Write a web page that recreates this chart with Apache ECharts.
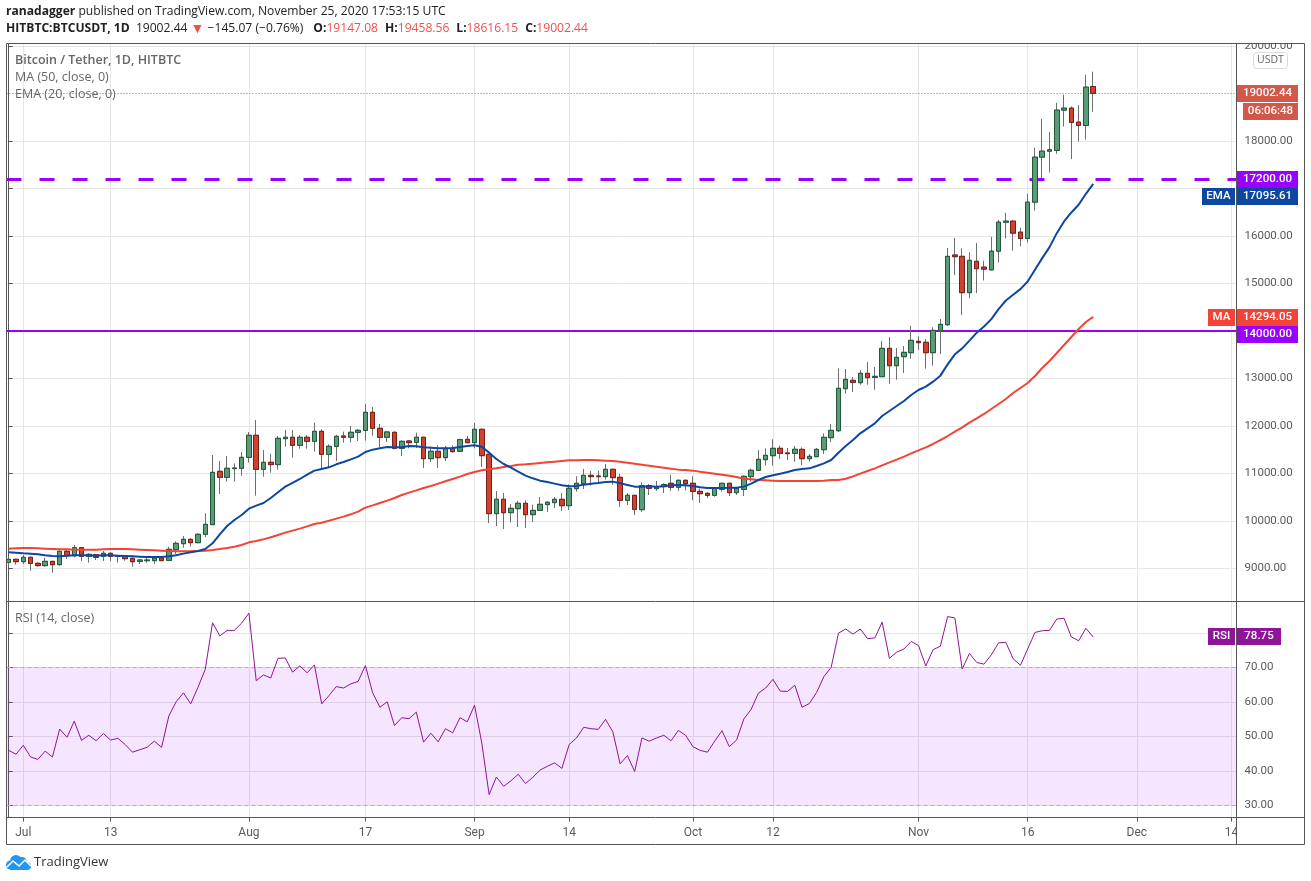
<!DOCTYPE html>
<html><head><meta charset="utf-8">
<style>html,body{margin:0;padding:0;background:#fff}#c{width:1311px;height:881px}</style>
<script src="https://cdn.jsdelivr.net/npm/echarts@6/dist/echarts.min.js"></script>
</head><body><div id="c"></div>
<script>
const opens=[9126,9189,9140,9231,9105,9056,9147,9077,9358,9266,
9435,9252,9287,9252,9316,9252,9259,9210,9147,9161,
9161,9217,9168,9393,9519,9610,9540,9716,9919,11042,
10916,11099,11106,11337,11801,11085,11232,11183,11730,11759,
11590,11759,11674,11885,11401,11569,11787,11759,11864,11906,
12285,11948,11759,11864,11527,11681,11653,11759,11309,11464,
11330,11527,11464,11716,11646,11927,11401,10151,10453,10172,
10256,10369,10130,10221,10341,10383,10453,10319,10677,10783,
10958,10944,10930,11085,10916,10432,10537,10235,10741,10677,
10720,10790,10706,10853,10790,10621,10579,10537,10663,10790,
10593,10663,10930,11064,11288,11372,11527,11429,11422,11505,
11309,11351,11498,11751,11898,12783,12958,12909,13106,13022,
13036,13632,13267,13457,13541,13780,13759,13541,14004,14131,
15598,15570,14805,15465,15342,15286,15679,16290,16311,16079,
15946,16711,17659,17785,17799,18649,18691,18396,18326,19147.08];
const closes=[9189,9140,9231,9105,9056,9147,9077,9358,9266,9435,
9252,9294,9231,9316,9252,9266,9203,9140,9175,9175,
9217,9161,9400,9526,9610,9540,9716,9926,11021,10916,
11106,11113,11337,11801,11085,11232,11183,11737,11759,11590,
11759,11674,11885,11401,11569,11780,11759,11864,11906,12285,
11948,11759,11871,11527,11674,11646,11759,11309,11464,11330,
11527,11457,11709,11646,11927,11372,10151,10453,10172,10263,
10369,10130,10221,10348,10390,10453,10319,10684,10790,10958,
10930,10930,11085,10909,10432,10537,10242,10741,10684,10720,
10762,10706,10853,10783,10621,10572,10537,10684,10790,10593,
10684,10937,11064,11295,11379,11527,11422,11415,11506,11309,
11358,11505,11758,11905,12790,12979,12916,13106,13015,13043,
13632,13267,13443,13548,13801,13752,13541,14011,14138,15570,
15563,14805,15486,15310,15300,15679,16290,16311,16058,15946,
16711,17659,17785,17813,18649,18691,18389,18326,19133,19002.44];
const lows=[9035,9077,9091,8950,9035,9035,8908,9056,9196,9231,
9154,9119,9175,9154,9154,9119,9161,9035,9091,9119,
9091,9154,9161,9302,9435,9456,9526,9653,9912,10565,
10825,10825,10951,11225,10530,10930,11014,11078,11562,11330,
11520,11520,11457,11106,11127,11260,11646,11653,11681,11688,
11794,11548,11660,11506,11365,11527,11534,11113,11239,11113,
11260,11436,11450,11632,11527,11134,9954,9891,9828,9968,
9870,9849,9975,10214,10186,10270,10207,10228,10614,10670,
10741,10790,10867,10755,10291,10333,10123,10186,10544,10635,
10586,10628,10628,10642,10432,10376,10481,10509,10614,10523,
10544,10523,10825,11057,11162,11162,11302,11281,11246,11175,
11245,11351,11407,11660,11870,12678,12713,12867,12867,12762,
13036,12888,12972,13113,13415,13597,13204,13267,13513,14103,
15177,14334,14692,14795,15062,15272,15441,15946,15693,15778,
15862,16536,17217,17336,17729,18305,17617,17989,18031,18616.15];
const highs=[9245,9203,9280,9245,9126,9217,9147,9372,9386,9491,
9435,9316,9302,9365,9330,9280,9280,9224,9189,9217,
9245,9238,9456,9568,9681,9631,9737,10158,11386,11260,
11365,11211,11450,11871,12124,11492,11408,11787,11913,11913,
11808,11808,12067,11927,11611,11808,11878,11997,11934,12461,
12397,12039,11892,11885,11695,11702,11857,11773,11562,11590,
11576,11590,11730,11787,12060,11941,11408,10628,10586,10355,
10418,10432,10341,10502,10411,10502,10586,10769,10937,11092,
11050,11057,11197,11099,10986,10586,10544,10811,10776,10839,
10790,10965,10874,10874,10937,10677,10600,10706,10804,10804,
10706,10958,11099,11492,11527,11716,11583,11534,11576,11547,
11407,11533,11842,12039,13211,13197,13029,13176,13344,13239,
13787,13871,13639,13681,14103,13885,13829,14075,14250,15745,
15956,15738,15654,15850,15476,15981,16339,16487,16332,16171,
16887,17856,18466,18192,18803,18972,18726,18754,19393,19458.56];
const emaValues=[9337,9330,9316,9309,9295,9273,9259,9252,9266,9273,
9273,9273,9266,9273,9273,9266,9259,9252,9245,9238,
9238,9238,9252,9273,9309,9337,9365,9407,9526,9716,
9891,10018,10123,10256,10319,10376,10481,10600,10720,10797,
10881,10972,11057,11092,11127,11190,11239,11295,11351,11450,
11499,11527,11555,11548,11548,11576,11569,11548,11541,11527,
11527,11534,11555,11576,11590,11562,11436,11302,11197,11120,
11035,10951,10895,10846,10818,10783,10748,10727,10734,10762,
10783,10797,10818,10825,10790,10755,10720,10720,10727,10720,
10727,10748,10755,10748,10734,10706,10692,10692,10692,10699,
10699,10720,10783,10860,10923,10958,10993,11028,11070,11091,
11105,11154,11210,11281,11435,11575,11702,11842,11947,12053,
12207,12313,12418,12523,12650,12755,12825,12930,13057,13295,
13506,13632,13794,13962,14093,14247,14458,14640,14760,14879,
15041,15286,15532,15764,16058,16304,16494,16655,16887,17095.61];
const maValues=[9414,9421,9428,9428,9421,9414,9407,9400,9400,9393,
9393,9393,9393,9400,9407,9407,9407,9400,9393,9386,
9379,9372,9365,9358,9358,9358,9365,9372,9386,9407,
9428,9456,9491,9547,9575,9610,9653,9702,9751,9793,
9835,9884,9933,9961,10003,10046,10088,10137,10193,10277,
10326,10376,10425,10481,10544,10593,10642,10691,10734,10783,
10832,10881,10930,10986,11028,11064,11085,11106,11134,11155,
11183,11190,11204,11218,11232,11246,11260,11274,11274,11281,
11281,11274,11267,11260,11246,11225,11204,11183,11162,11141,
11120,11099,11078,11071,11057,11035,11014,10993,10972,10951,
10923,10888,10874,10860,10853,10846,10839,10839,10839,10839,
10839,10839,10846,10860,10859,10887,10936,10993,11049,11105,
11168,11231,11288,11351,11421,11484,11547,11618,11702,11786,
11877,11969,12067,12158,12250,12355,12460,12565,12692,12797,
12902,13050,13218,13366,13534,13703,13871,14040,14187,14294.05];
const rsiValues=[45.9,44.8,47.4,44.0,43.3,45.7,44.0,52.1,49.7,54.4,
48.8,50.3,48.7,50.8,48.9,49.4,47.6,45.4,46.1,46.8,
48.6,46.8,55.9,60.0,62.6,59.4,64.2,69.4,82.9,79.1,
80.7,80.7,82.8,85.7,66.1,67.8,66.9,72.6,72.7,68.6,
70.4,68.4,70.7,59.4,61.8,64.4,64.0,65.2,65.9,70.5,
62.6,58.4,60.0,53.1,55.4,55.1,57.0,48.3,50.9,48.4,
52.2,51.0,55.4,54.2,59.0,48.0,33.1,38.2,35.5,37.1,
39.0,36.3,38.1,40.2,41.3,42.3,40.7,47.6,49.5,52.6,
52.2,52.0,54.9,51.3,42.0,44.4,39.8,49.5,48.6,49.5,
50.3,48.7,51.7,50.3,47.0,45.9,45.4,48.6,51.6,47.0,
48.9,55.0,57.8,62.5,64.0,66.5,63.1,63.0,64.8,58.4,
59.5,62.7,67.3,70.0,79.9,81.1,79.6,81.1,78.3,78.5,
83.1,72.6,74.4,75.3,77.5,76.3,70.4,75.1,76.1,84.7,
84.3,69.5,74.0,71.4,70.9,73.6,77.1,77.2,72.5,70.6,
75.3,80.1,80.6,80.7,84.0,84.2,78.8,77.7,81.3,78.75];
const timeTicks=[2,14,33,49,64,77,94,105,125,140,155,168];
const timeLabels=['Jul','13','Aug','17','Sep','14','Oct','12','Nov','16','Dec','14'];
const priceTicks=[9000,10000,11000,12000,13000,14000,15000,16000,17000,18000,20000];
const rsiTicks=[30,40,50,60,70,80];
const levelDashed=17200, levelSolid=14000, lastPrice=19002.44;

const FONT='"Open Sans"', NUM='Roboto';
const GRID='#e6e6e6', FRAME='#555555', TXT='#5a5a5a';
const days=closes.map((_,i)=>i);
const wickData=days.map(i=>[i,opens[i],closes[i],lows[i],highs[i]]);
const bodyData=days.map(i=>[i,opens[i],closes[i],Math.min(opens[i],closes[i]),Math.max(opens[i],closes[i])]);
const xAxisBase={type:'value',min:-0.309,max:168.69,
  axisLine:{show:false},
  axisTick:{customValues:timeTicks,show:false},
  splitLine:{show:true,lineStyle:{color:GRID,width:1}},
  axisLabel:{show:false,customValues:timeTicks}};
const yAxisBase={type:'value',position:'right',
  axisLine:{show:true,lineStyle:{color:FRAME}},
  splitLine:{show:true,lineStyle:{color:GRID,width:1}},
  axisLabel:{color:TXT,fontFamily:NUM,fontSize:11.5,margin:8,showMinLabel:true,showMaxLabel:true,
    formatter:v=>v.toFixed(2)}};
const tag=(x,y,w,h,fill,text,size)=>[
  {type:'rect',z:100,shape:{x:x,y:y,width:w,height:h},style:{fill:fill}},
  {type:'text',z:101,style:{x:x+w/2,y:y+h/2,text:text,fill:'#fff',align:'center',verticalAlign:'middle',
    font:'500 '+(size||11.5)+'px '+NUM}}];
const head=(x,y,rich,text)=>({type:'text',z:101,style:{x:x,y:y,text:text,fill:'#222',verticalAlign:'middle',
  font:'12.1px '+FONT,rich:rich}});
const rich={b:{fontWeight:'bold',fontFamily:FONT,fontSize:12.1,fill:'#222',color:'#222'},
  r:{fontFamily:FONT,fontSize:12.1,fill:'#f0504f',color:'#f0504f'},
  t:{fontFamily:FONT,fontSize:14,fill:'#f0504f',color:'#f0504f'},
  o:{width:10,fontSize:12.1,fontFamily:FONT},
  g:{width:7,fontSize:12.1,fontFamily:FONT}};
const cloud=(cx,cy,r)=>({type:'circle',z:101,shape:{cx:cx,cy:cy,r:r},style:{fill:'#2196f3'}});
const graphics=[
  {type:'rect',z:99,shape:{x:0,y:0,width:1311,height:43},style:{fill:'#fff'}},
  {type:'rect',z:99,shape:{x:1237,y:818,width:67,height:26},style:{fill:'#fff'}},
  {type:'rect',z:102,shape:{x:6.5,y:43.5,width:1298,height:801},style:{fill:'none',stroke:FRAME,lineWidth:1}},
  {type:'line',z:102,shape:{x1:6.5,y1:601.5,x2:1304.5,y2:601.5},style:{stroke:FRAME,lineWidth:1}},
  {type:'line',z:102,shape:{x1:6.5,y1:817.5,x2:1304.5,y2:817.5},style:{stroke:FRAME,lineWidth:1}},
  {type:'line',z:102,shape:{x1:1236.5,y1:43.5,x2:1236.5,y2:844.5},style:{stroke:FRAME,lineWidth:1}},
  head(6,12,rich,'{b|ranadagger} published on TradingView.com, November 25, 2020 17:53:15 UTC'),
  head(6,29,rich,'{b|HITBTC:BTCUSDT, 1D}  19002.44 {t|▼} −145.07 (−0.76%){o| }{b|O:}{r|19147.08}{g| }{b|H:}{r|19458.56}{g| }{b|L:}{r|18616.15}{g| }{b|C:}{r|19002.44}'),
  {type:'text',z:101,style:{x:15,y:60,text:'Bitcoin / Tether, 1D, HITBTC',fill:'#666',verticalAlign:'middle',font:'600 12.5px '+FONT}},
  {type:'text',z:101,style:{x:15,y:77,text:'MA (50, close, 0)',fill:'#666',verticalAlign:'middle',font:'12.5px '+FONT}},
  {type:'text',z:101,style:{x:15,y:94,text:'EMA (20, close, 0)',fill:'#666',verticalAlign:'middle',font:'12.5px '+FONT}},
  {type:'text',z:101,style:{x:15,y:618,text:'RSI (14, close)',fill:'#666',verticalAlign:'middle',font:'12.5px '+FONT}},
  {type:'rect',z:100,shape:{x:1253.5,y:52.5,width:34,height:16,r:3},style:{fill:'#fff',stroke:'#d8dae2',lineWidth:1}},
  {type:'text',z:101,style:{x:1270.5,y:60.5,text:'USDT',fill:'#666',align:'center',verticalAlign:'middle',font:'10.5px '+FONT}},
  ...tag(1237,85,61,17,'#d3584a','19002.44'),
  ...tag(1243,103,55,17,'#d3584a','06:06:48'),
  ...tag(1237,171,61,17,'#9900ff','17200.00'),
  ...tag(1202,188,33,17,'#0d47a1','EMA'),
  ...tag(1237,188,61,17,'#0d47a1','17095.61'),
  ...tag(1208,309,27,17,'#f44336','MA'),
  ...tag(1237,309,61,17,'#f44336','14294.05'),
  ...tag(1237,326,61,17,'#9900ff','14000.00'),
  ...tag(1208,628,27,17,'#8e1599','RSI'),
  ...tag(1237,628,44,17,'#8e1599','78.75'),
  cloud(10.5,865,4.5),cloud(16,861,6),cloud(22,862,5),cloud(27,866,4),
  {type:'rect',z:101,shape:{x:10,y:864,width:17,height:6},style:{fill:'#2196f3'}},
  {type:'polyline',z:102,shape:{points:[[7,867],[13,861],[19,866],[25,860],[31,866]]},style:{stroke:'#fff',lineWidth:1.5,fill:'none'}},
  {type:'text',z:101,style:{x:34,y:862,text:'TradingView',fill:'#333',verticalAlign:'middle',font:'13px '+FONT}}
];

const chart=echarts.init(document.getElementById('c'),null,{renderer:'canvas'});
chart.setOption({
  animation:false,backgroundColor:'#fff',
  grid:[{left:6.5,top:43.5,width:1230,height:558,containLabel:false},
        {left:6.5,top:601.5,width:1230,height:216,containLabel:false}],
  xAxis:[{...xAxisBase,gridIndex:0},
    {...xAxisBase,gridIndex:1,
     axisTick:{show:true,customValues:timeTicks,length:4,lineStyle:{color:FRAME}},
     axisLabel:{show:true,customValues:timeTicks,color:TXT,fontFamily:NUM,fontSize:12,margin:9,hideOverlap:false,
       showMinLabel:true,showMaxLabel:true,
       formatter:v=>timeLabels[timeTicks.indexOf(Math.round(v))]}}],
  yAxis:[{...yAxisBase,gridIndex:0,min:8301,max:20052,
     axisTick:{show:true,customValues:priceTicks,length:4,lineStyle:{color:FRAME}},
     axisLabel:{...yAxisBase.axisLabel,customValues:priceTicks}},
    {...yAxisBase,gridIndex:1,min:26.46,max:89.07,
     axisTick:{show:true,customValues:rsiTicks,length:4,lineStyle:{color:FRAME}},
     axisLabel:{...yAxisBase.axisLabel,customValues:rsiTicks}}],
  series:[
    {type:'candlestick',name:'wick',xAxisIndex:0,yAxisIndex:0,z:3,barWidth:5,data:wickData,
      itemStyle:{color:'#5a9c78',color0:'#d0422f',borderColor:'#6e6e6e',borderColor0:'#6e6e6e',borderWidth:1},
      markLine:{silent:true,symbol:'none',z:1,label:{show:false},data:[
        {yAxis:lastPrice,lineStyle:{color:'#d3584a',type:[1,2],width:1}},
        {yAxis:levelDashed,lineStyle:{color:'#9900ff',type:[15,18],width:3}},
        {yAxis:levelSolid,lineStyle:{color:'#9900ff',type:'solid',width:2}}]}},
    {type:'candlestick',name:'body',xAxisIndex:0,yAxisIndex:0,z:4,barWidth:5,data:bodyData,
      itemStyle:{color:'#5a9c78',color0:'#d0422f',borderColor:'#22573c',borderColor0:'#7a1d14',borderWidth:1}},
    {type:'line',name:'MA',xAxisIndex:0,yAxisIndex:0,z:5,showSymbol:false,data:days.map(i=>[i,maValues[i]]),
      lineStyle:{color:'#f44336',width:2}},
    {type:'line',name:'EMA',xAxisIndex:0,yAxisIndex:0,z:6,showSymbol:false,data:days.map(i=>[i,emaValues[i]]),
      lineStyle:{color:'#0d47a1',width:2}},
    {type:'line',name:'RSI',xAxisIndex:1,yAxisIndex:1,z:5,showSymbol:false,data:days.map(i=>[i,rsiValues[i]]),
      lineStyle:{color:'#8e1599',width:1},
      markArea:{silent:true,z:1,itemStyle:{color:'rgba(153,0,255,0.1)'},data:[[{yAxis:30},{yAxis:70}]]},
      markLine:{silent:true,symbol:'none',z:1,label:{show:false},
        lineStyle:{color:'#b9a9c2',type:[4,3],width:1},data:[{yAxis:30},{yAxis:70}]}}
  ],
  graphic:{elements:graphics}
});
</script></body></html>
